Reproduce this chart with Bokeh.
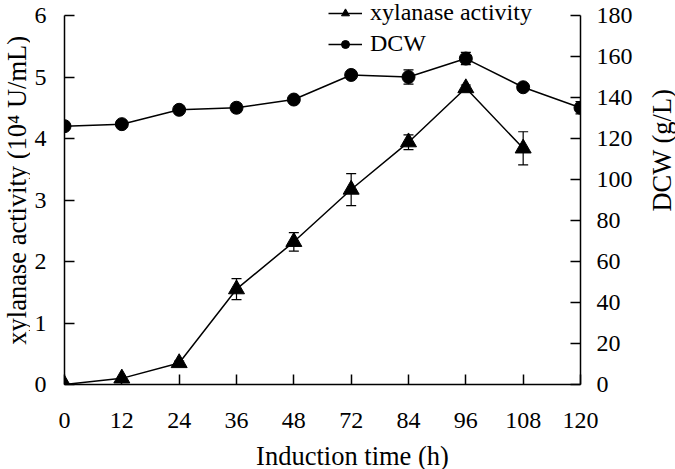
import math
from bokeh.plotting import figure
from bokeh.layouts import row, column
from bokeh.models import (Range1d, LinearAxis, FixedTicker, Whisker, TeeHead,
                          ColumnDataSource, Legend, LegendItem, Label)
from bokeh.embed import file_html
from bokeh.resources import INLINE

# ---- data ----
hours = [0, 12, 24, 36, 48, 72, 84, 96, 108, 120]
xylanase = [0.0, 0.1, 0.35, 1.55, 2.32, 3.17, 3.94, 4.82, 3.84]
xylanase_err = [0.0, 0.0, 0.03, 0.17, 0.15, 0.26, 0.12, 0.05, 0.27]
dcw = [126, 127, 134, 135, 139, 151, 150, 159, 145, 135]
dcw_err = [1, 1, 1, 2, 1, 1, 3.5, 3, 1, 3]
left_ticks = [0, 1, 2, 3, 4, 5, 6]
right_ticks = [0, 20, 40, 60, 80, 100, 120, 140, 160, 180]
left_max, right_max = 6, 180

FONT = "Liberation Serif"
TOP_PAD = 384 / 369  # headroom above the top tick for the legend
MAIN_H = 439

pos = list(range(len(hours)))
xs_x = pos[:len(xylanase)]

src_x = ColumnDataSource(dict(
    x=xs_x, y=xylanase,
    lo=[v - e for v, e in zip(xylanase, xylanase_err)],
    hi=[v + e for v, e in zip(xylanase, xylanase_err)]))
src_d = ColumnDataSource(dict(
    x=pos, y=dcw,
    lo=[v - e for v, e in zip(dcw, dcw_err)],
    hi=[v + e for v, e in zip(dcw, dcw_err)]))

p = figure(width=615, height=MAIN_H, output_backend="svg", toolbar_location=None,
           x_range=Range1d(0, len(hours) - 1),
           y_range=Range1d(0, left_max * TOP_PAD),
           min_border_left=34, min_border_right=65, min_border_top=0,
           min_border_bottom=55)
p.extra_y_ranges = {"dcw": Range1d(0, right_max * TOP_PAD)}
p.outline_line_color = None
p.xgrid.visible = False
p.ygrid.visible = False
p.background_fill_color = "white"
p.border_fill_color = "white"

def style_axis(ax, standoff):
    ax.major_label_text_font = FONT
    ax.major_label_text_font_size = "24px"
    ax.major_label_text_color = "black"
    ax.axis_line_color = "black"
    ax.axis_line_width = 1.5
    ax.major_tick_line_color = "black"
    ax.major_tick_line_width = 1.5
    ax.major_tick_in = 10
    ax.major_tick_out = 0
    ax.minor_tick_line_color = None
    ax.major_label_standoff = standoff

xa = p.xaxis[0]
xa.ticker = FixedTicker(ticks=pos)
xa.major_label_overrides = {i: str(h) for i, h in enumerate(hours)}
style_axis(xa, 28)

ya = p.yaxis[0]
ya.ticker = FixedTicker(ticks=left_ticks)
ya.bounds = (0, left_max)
style_axis(ya, 18)

ra = LinearAxis(y_range_name="dcw", ticker=FixedTicker(ticks=right_ticks),
                bounds=(0, right_max))
style_axis(ra, 16)
p.add_layout(ra, "right")

# error bars
for src, rng in ((src_x, "default"), (src_d, "dcw")):
    w = Whisker(source=src, base="x", lower="lo", upper="hi",
                line_color="black", line_width=1.2,
                upper_head=TeeHead(size=10, line_color="black", line_width=1.2),
                lower_head=TeeHead(size=10, line_color="black", line_width=1.2),
                y_range_name=rng)
    p.add_layout(w)

l1 = p.line("x", "y", source=src_x, line_color="black", line_width=1.5)
m1 = p.scatter("x", "y", source=src_x, marker="triangle", size=16,
               fill_color="black", line_color="black")
l2 = p.line("x", "y", source=src_d, line_color="black", line_width=1.5,
            y_range_name="dcw")
m2 = p.scatter("x", "y", source=src_d, marker="circle", size=13,
               fill_color="black", line_color="black", y_range_name="dcw")

leg_kw = dict(orientation="vertical", label_text_font=FONT,
              label_text_font_size="24px", label_text_color="black",
              glyph_width=34, glyph_height=20, label_height=20,
              label_standoff=8, spacing=0, padding=0, margin=0,
              border_line_color=None, background_fill_alpha=0)
leg1 = Legend(items=[LegendItem(label="xylanase activity", renderers=[l1, m1])],
              location=(264, 358), **leg_kw)
leg2 = Legend(items=[LegendItem(label="DCW", renderers=[l2, m2])],
              location=(264, 327), **leg_kw)
p.add_layout(leg1)
p.add_layout(leg2)

# ---- strips holding the axis titles ----
def strip(w, h):
    f = figure(width=w, height=h, output_backend="svg", toolbar_location=None,
               x_range=Range1d(0, w), y_range=Range1d(0, h),
               min_border_left=0, min_border_right=0,
               min_border_top=0, min_border_bottom=0)
    f.axis.visible = False
    f.xgrid.visible = False
    f.ygrid.visible = False
    f.outline_line_color = None
    f.border_fill_color = "white"
    f.background_fill_color = "white"
    return f

lab_kw = dict(text_font=FONT, text_font_size="26.5px", text_color="black",
              text_align="center", text_baseline="middle")

p_left = strip(30, MAIN_H)
p_left.add_layout(Label(x=16, y=MAIN_H - 217, angle=math.pi / 2,
                        text="xylanase activity (10\u2074 U/mL)", **lab_kw))

p_right = strip(30, MAIN_H)
p_right.add_layout(Label(x=16, y=MAIN_H - 171, angle=math.pi / 2,
                         text="DCW (g/L)", **lab_kw))

p_bottom = strip(675, 469 - MAIN_H)
p_bottom.add_layout(Label(x=352, y=14, text="Induction time (h)", **lab_kw))

layout = column(row(p_left, p, p_right), p_bottom)
open("out.html", "w").write(file_html(layout, INLINE))
